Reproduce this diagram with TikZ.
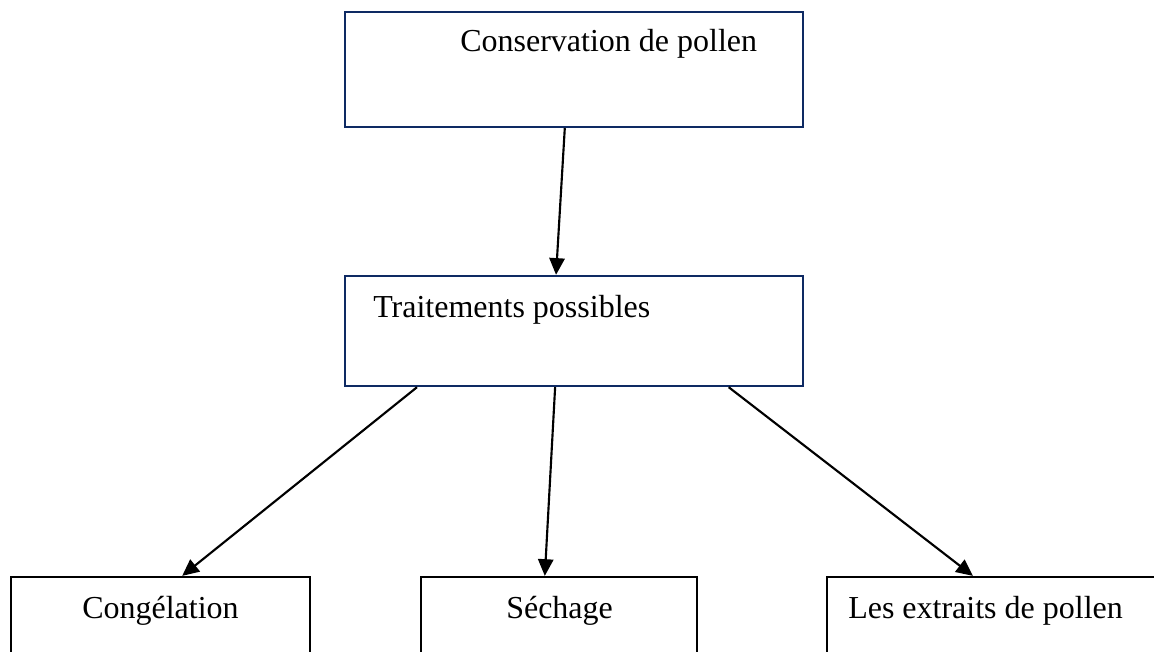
\documentclass[tikz,border=0pt]{standalone}
\usepackage{fontspec}
\setmainfont{Liberation Serif}
\usepackage{xcolor}
\usepackage{tikz}
\usetikzlibrary{positioning,calc,fit,arrows.meta}
\definecolor{boxnavy}{HTML}{0E2A63}

\begin{document}
\begin{tikzpicture}[x=0.75pt, y=-0.75pt,
  navybox/.style={draw=boxnavy, line width=1.8pt, inner sep=0pt},
  plainbox/.style={draw=black, line width=1.7pt, inner sep=0pt},
  boxtext/.style={font=\fontsize{24}{28}\selectfont, inner sep=0pt, anchor=base west},
  link/.style={black, line width=1.6pt, -{Triangle[length=12.5pt,width=11.5pt]}},
]
% Page = 1154 x 652 px (1px = 0.75pt); lower boxes run past the bottom edge, so clip.
\useasboundingbox (0,0) rectangle (1154,652);
\clip (0,0) rectangle (1154,652);

% --- Top two boxes (navy frames)
\node[navybox, fit={(345,12) (803,127)}] (conserv) {};
\node[boxtext] (conservtxt) at (460,52) {Conservation de pollen};

\node[navybox, fit={(345,276) (803,386)}] (trait) {};
\node[boxtext] (traittxt) at (373,318) {Traitements possibles};

% --- Three treatment boxes (black frames, open at the bottom of the page)
\node[plainbox, fit={(11,577) (310,700)}] (congel) {};
\node[boxtext] (congeltxt) at (82,618) {Congélation};

\node[plainbox, fit={(421,577) (697,700)}] (sechage) {};
\node[boxtext] (sechagetxt) at (506,618) {Séchage};

\node[plainbox, fit={(827,577) (1170,700)}] (extraits) {};
\node[boxtext] (extraitstxt) at (848,618) {Les extraits de pollen};

% --- Arrows (start/end taken as fractions along box edges)
\draw[link] ($(conserv.south west)!0.48!(conserv.south east)$)
         -- ($(trait.north west)!0.461!(trait.north east)$);
\draw[link] ($(trait.south west)!0.159!(trait.south east)$)
         -- ($(congel.north west)!0.572!(congel.north east)$);
\draw[link] ($(trait.south west)!0.459!(trait.south east)$)
         -- ($(sechage.north west)!0.449!(sechage.north east)$);
\draw[link] ($(trait.south west)!0.836!(trait.south east)$)
         -- ($(extraits.north west)!0.426!(extraits.north east)$);
\end{tikzpicture}
\end{document}
